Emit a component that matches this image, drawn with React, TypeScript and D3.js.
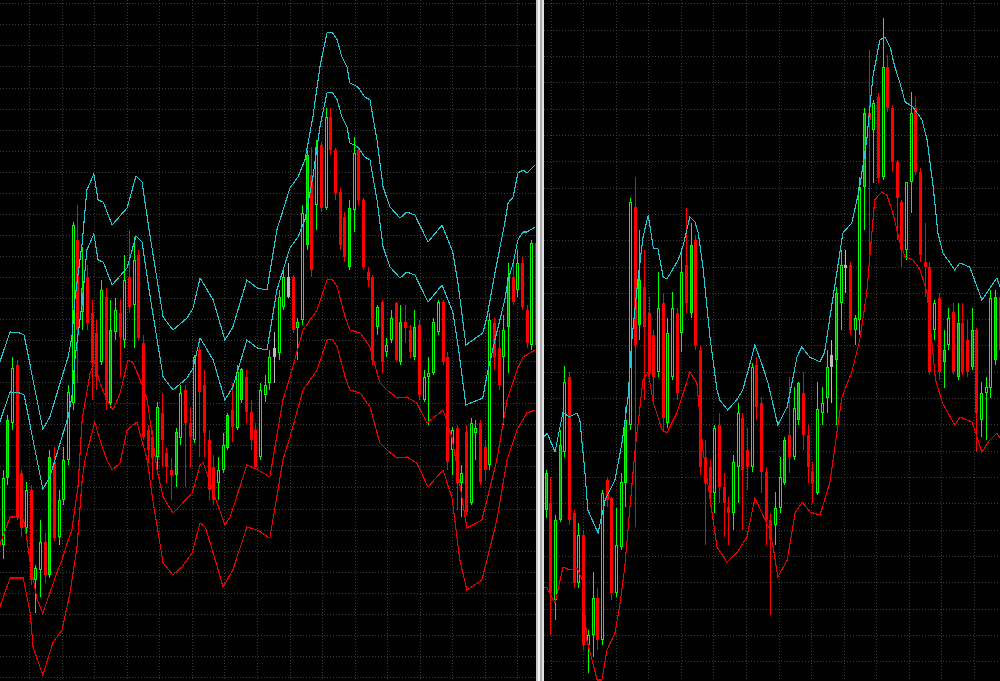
import React from "react";
import * as d3 from "d3";

type Candle = [number, number, number, number, string]; // open, close, high, low, kind (h=up hollow, f=up filled, b=down, g=neutral)
type Pt = [number, number]; // bar index, price

const leftCandles: Candle[] = [
  [455, 522, 530, 441, "h"], [522, 580, 585, 515, "f"], [577, 632, 643, 570, "h"], [635, 483, 640, 480, "b"],
  [527, 472, 530, 463, "b"], [472, 510, 518, 467, "h"], [510, 420, 515, 415, "b"], [420, 432, 435, 387, "h"],
  [430, 458, 480, 403, "h"], [458, 425, 467, 417, "b"], [425, 543, 550, 422, "f"], [538, 462, 553, 459, "b"],
  [463, 500, 510, 455, "h"], [500, 540, 553, 495, "h"], [540, 608, 615, 535, "h"], [597, 775, 778, 590, "h"],
  [760, 670, 795, 617, "b"], [688, 712, 753, 670, "f"], [723, 677, 735, 670, "b"], [687, 637, 700, 600, "b"],
  [667, 623, 680, 610, "b"], [638, 710, 720, 635, "h"], [703, 600, 712, 590, "b"], [597, 670, 700, 592, "f"],
  [668, 690, 702, 660, "h"], [687, 663, 700, 623, "b"], [660, 720, 745, 652, "h"], [723, 693, 770, 687, "b"],
  [695, 740, 763, 652, "h"], [745, 662, 750, 660, "b"], [657, 563, 665, 560, "b"], [570, 550, 575, 537, "b"],
  [563, 542, 570, 520, "b"], [543, 593, 598, 527, "h"], [587, 560, 607, 533, "b"], [547, 533, 553, 517, "b"],
  [530, 525, 542, 500, "b"], [525, 568, 572, 513, "f"], [562, 607, 615, 555, "h"], [610, 577, 615, 513, "b"],
  [577, 563, 593, 533, "b"], [560, 643, 645, 557, "h"], [650, 608, 653, 543, "b"], [615, 567, 630, 543, "b"],
  [560, 510, 570, 500, "b"], [533, 500, 545, 495, "b"], [517, 530, 543, 500, "h"], [530, 555, 567, 527, "h"],
  [552, 585, 587, 550, "f"], [590, 573, 617, 558, "b"], [572, 628, 635, 570, "h"], [600, 631, 632, 597, "f"],
  [623, 588, 630, 577, "b"], [588, 560, 600, 550, "b"], [570, 533, 577, 533, "b"], [543, 610, 617, 540, "h"],
  [605, 615, 625, 598, "h"], [617, 643, 650, 610, "h"], [643, 652, 668, 617, "g"], [647, 703, 710, 640, "h"],
  [693, 723, 730, 690, "h"], [703, 723, 737, 702, "g"], [723, 670, 725, 667, "b"], [672, 678, 682, 640, "h"],
  [680, 787, 795, 675, "h"], [755, 845, 850, 750, "f"], [825, 730, 853, 723, "b"], [795, 853, 860, 770, "h"],
  [855, 792, 858, 788, "b"], [792, 883, 892, 790, "h"], [883, 850, 892, 845, "b"], [850, 807, 852, 800, "b"],
  [808, 755, 812, 750, "b"], [783, 743, 788, 738, "b"], [733, 792, 800, 730, "f"], [790, 847, 863, 768, "h"],
  [850, 800, 853, 795, "b"], [800, 733, 802, 730, "b"], [728, 720, 733, 713, "b"], [723, 640, 725, 635, "b"],
  [673, 693, 695, 665, "h"], [698, 638, 700, 627, "b"], [648, 655, 662, 643, "h"], [660, 682, 690, 657, "h"],
  [697, 640, 698, 638, "b"], [638, 678, 695, 635, "f"], [678, 672, 695, 657, "b"], [670, 648, 675, 642, "b"],
  [643, 673, 690, 640, "f"], [675, 605, 680, 600, "b"], [600, 623, 630, 598, "h"], [623, 627, 643, 575, "h"],
  [627, 678, 682, 625, "h"], [668, 698, 700, 665, "h"], [698, 638, 700, 635, "b"], [643, 538, 648, 530, "b"],
  [550, 570, 573, 525, "h"], [572, 517, 575, 490, "b"], [517, 527, 535, 483, "h"], [568, 488, 575, 485, "b"],
  [497, 577, 582, 495, "h"], [567, 572, 580, 540, "h"], [577, 518, 580, 515, "b"], [553, 530, 560, 520, "b"],
  [535, 680, 687, 530, "h"], [677, 643, 682, 630, "b"], [652, 615, 670, 610, "b"], [643, 670, 685, 575, "h"],
  [673, 723, 737, 627, "f"], [723, 698, 737, 695, "b"], [710, 737, 750, 703, "h"], [737, 693, 743, 690, "b"],
  [690, 657, 695, 652, "b"], [655, 757, 760, 650, "h"], [757, 655, 760, 650, "b"],
];

const rightCandles: Candle[] = [
  [490, 527, 530, 482, "f"], [497, 407, 523, 365, "b"], [400, 480, 485, 380, "h"], [480, 555, 570, 478, "f"],
  [548, 618, 634, 543, "h"], [623, 480, 628, 475, "b"], [487, 417, 490, 412, "b"], [417, 465, 477, 412, "h"],
  [465, 355, 470, 350, "b"], [355, 365, 370, 327, "h"], [365, 402, 428, 343, "h"], [402, 360, 412, 350, "b"],
  [360, 507, 510, 355, "h"], [520, 500, 523, 493, "b"], [502, 407, 503, 400, "b"], [407, 455, 492, 403, "h"],
  [453, 518, 527, 450, "h"], [517, 580, 593, 493, "f"], [575, 798, 802, 570, "h"], [793, 655, 823, 473, "b"],
  [675, 720, 770, 660, "f"], [713, 673, 750, 600, "b"], [687, 627, 703, 620, "b"], [665, 623, 670, 597, "b"],
  [628, 692, 728, 623, "h"], [697, 582, 707, 568, "b"], [577, 667, 682, 572, "h"], [623, 692, 708, 620, "h"],
  [687, 607, 692, 600, "b"], [667, 728, 752, 648, "h"], [735, 697, 792, 687, "b"], [687, 755, 777, 682, "f"],
  [760, 655, 765, 650, "b"], [650, 533, 655, 525, "b"], [543, 517, 560, 455, "b"], [533, 507, 540, 493, "b"],
  [507, 572, 575, 487, "h"], [575, 513, 587, 497, "b"], [513, 497, 527, 463, "b"], [493, 487, 503, 455, "b"],
  [487, 538, 545, 470, "h"], [533, 587, 597, 497, "h"], [582, 530, 587, 470, "b"], [550, 533, 572, 510, "b"],
  [533, 633, 637, 528, "h"], [635, 593, 643, 580, "b"], [597, 528, 603, 507, "b"], [528, 480, 533, 455, "b"],
  [480, 460, 487, 385, "b"], [475, 492, 508, 455, "h"], [492, 523, 543, 487, "h"], [517, 560, 563, 515, "f"],
  [565, 543, 623, 527, "b"], [543, 592, 613, 540, "h"], [580, 617, 618, 575, "f"], [607, 565, 628, 550, "b"],
  [565, 533, 575, 517, "b"], [528, 517, 538, 497, "b"], [507, 591, 618, 505, "h"], [587, 597, 613, 575, "h"],
  [602, 633, 650, 587, "h"], [645, 633, 660, 597, "g"], [640, 707, 713, 575, "f"], [697, 735, 750, 670, "h"],
  [735, 732, 750, 707, "g"], [735, 670, 738, 665, "b"], [670, 682, 685, 655, "h"], [680, 813, 823, 665, "h"],
  [813, 887, 892, 770, "f"], [887, 880, 950, 733, "b"], [870, 897, 900, 817, "h"], [903, 822, 907, 817, "b"],
  [823, 933, 982, 820, "h"], [933, 892, 945, 888, "b"], [892, 838, 895, 828, "b"], [838, 802, 840, 760, "b"],
  [798, 750, 800, 733, "b"], [750, 818, 818, 740, "h"], [818, 887, 908, 787, "h"], [892, 828, 903, 825, "b"],
  [828, 745, 832, 738, "b"], [738, 733, 777, 703, "b"], [733, 628, 738, 625, "b"], [670, 697, 700, 660, "h"],
  [702, 628, 707, 620, "b"], [638, 650, 670, 612, "f"], [655, 682, 692, 650, "h"], [688, 628, 697, 625, "b"],
  [623, 677, 697, 620, "f"], [677, 628, 697, 625, "b"], [660, 628, 680, 623, "b"], [633, 670, 692, 630, "f"],
  [670, 587, 672, 548, "b"], [580, 607, 618, 563, "h"], [607, 613, 623, 560, "h"], [612, 702, 710, 602, "h"],
  [640, 703, 710, 635, "f"], [703, 650, 710, 640, "b"],
];

const leftUpperOuter: Pt[] = [
  [-0.6, 638], [1.6, 668], [3.7, 667], [4.6, 665], [6.5, 620], [8.6, 571], [10.1, 583], [12.3, 617], [14.0, 643],
  [14.8, 663], [15.5, 703], [17.0, 757], [18.0, 810], [19.5, 826], [20.4, 800], [21.5, 798], [23.4, 775], [26.6, 792],
  [28.5, 824], [29.8, 818], [31.3, 770], [34.3, 683], [36.4, 670], [39.4, 682], [40.7, 692], [42.2, 722], [45.0, 700],
  [47.5, 660], [49.2, 673], [52.2, 720], [54.4, 712], [56.5, 710], [58.6, 770], [61.4, 812], [63.1, 823], [64.6, 840],
  [66.3, 883], [67.8, 933], [69.3, 967], [70.4, 968], [71.5, 960], [72.5, 943], [73.6, 933], [74.2, 917], [75.9, 913],
  [77.4, 903], [78.5, 900], [80.0, 860], [81.3, 813], [82.8, 793], [84.9, 782], [86.4, 788], [88.1, 785], [90.9, 758],
  [93.9, 775], [96.2, 748], [97.3, 717], [99.0, 655], [100.5, 660], [102.6, 667], [103.5, 683], [105.2, 727],
  [107.3, 777], [108.0, 797], [109.1, 803], [110.1, 827], [111.2, 830], [112.0, 827], [113.8, 835],
];

const leftUpperInner: Pt[] = [
  [-0.6, 578], [1.6, 608], [3.7, 607], [4.6, 605], [6.5, 560], [8.6, 511], [10.1, 523], [12.3, 557], [14.0, 583],
  [14.8, 603], [15.5, 643], [17.0, 697], [18.0, 750], [19.5, 766], [20.4, 740], [21.5, 738], [23.4, 715], [26.6, 732],
  [28.5, 764], [29.8, 758], [31.3, 710], [34.3, 623], [36.4, 610], [39.4, 622], [40.7, 632], [42.2, 662], [45.0, 640],
  [47.5, 600], [49.2, 613], [52.2, 660], [54.4, 652], [56.5, 650], [58.6, 710], [61.4, 752], [63.1, 763], [64.6, 780],
  [66.3, 823], [67.8, 873], [69.3, 907], [70.4, 908], [71.5, 900], [72.5, 883], [73.6, 873], [74.2, 857], [75.9, 853],
  [77.4, 843], [78.5, 840], [80.0, 800], [81.3, 753], [82.8, 733], [84.9, 722], [86.4, 728], [88.1, 725], [90.9, 698],
  [93.9, 715], [96.2, 688], [97.3, 655], [99.0, 595], [100.5, 598], [102.6, 602], [103.5, 625], [105.2, 660],
  [107.3, 700], [108.0, 720], [109.1, 737], [110.1, 760], [111.2, 768], [112.0, 768], [113.8, 773],
];

const leftLowerInner: Pt[] = [
  [-0.6, 455], [1.6, 483], [2.6, 483], [4.4, 481], [4.8, 473], [5.9, 437], [7.4, 400], [8.6, 387], [10.1, 407],
  [11.8, 430], [12.7, 440], [13.8, 457], [14.8, 470], [16.1, 513], [17.0, 580], [17.6, 597], [18.7, 627], [19.7, 638],
  [20.8, 617], [22.3, 600], [23.6, 590], [25.1, 607], [26.8, 640], [27.9, 637], [29.4, 620], [30.9, 600], [32.1, 560],
  [33.0, 530], [34.3, 503], [36.4, 487], [38.5, 497], [40.5, 507], [42.2, 535], [42.8, 538], [45.0, 508], [47.5, 475],
  [48.6, 483], [50.7, 513], [52.2, 535], [54.6, 530], [57.1, 523], [59.9, 600], [61.4, 623], [64.2, 670], [67.2, 690],
  [69.3, 720], [70.4, 721], [71.5, 713], [73.2, 683], [74.2, 670], [76.4, 667], [78.5, 653], [80.6, 617], [82.1, 610],
  [84.3, 602], [86.4, 603], [88.5, 597], [90.7, 577], [94.1, 590], [96.0, 563], [97.1, 533], [99.2, 472], [102.4, 480],
  [103.5, 500], [105.6, 540], [107.8, 600], [109.9, 630], [111.2, 643], [113.8, 650],
];

const leftLowerOuter: Pt[] = [
  [-0.6, 393], [1.6, 422], [4.4, 422], [5.9, 387], [6.5, 353], [8.6, 325], [10.8, 358], [12.7, 370], [14.4, 407],
  [15.9, 453], [17.0, 520], [17.6, 540], [19.7, 578], [20.8, 560], [22.3, 540], [23.4, 530], [25.1, 537], [26.6, 570],
  [28.7, 578], [30.9, 540], [32.1, 500], [34.3, 437], [36.4, 425], [38.3, 433], [40.5, 447], [42.2, 477], [43.3, 473],
  [45.0, 447], [47.1, 413], [49.2, 430], [52.2, 473], [54.4, 470], [57.1, 462], [59.9, 540], [61.4, 563], [64.2, 610],
  [67.2, 630], [69.3, 660], [70.4, 661], [71.5, 653], [73.2, 623], [74.2, 610], [76.4, 607], [78.5, 593], [80.6, 557],
  [82.1, 550], [84.3, 542], [86.4, 543], [88.5, 537], [90.9, 513], [94.1, 530], [96.0, 503], [97.7, 440], [99.2, 410],
  [102.4, 420], [103.5, 440], [105.6, 480], [107.8, 540], [109.9, 570], [112.0, 587], [113.8, 590],
];

const rightUpper: Pt[] = [
  [-0.4, 563], [0.3, 567], [2.0, 548], [3.7, 588], [5.0, 583], [6.7, 587], [7.3, 580], [8.4, 527], [9.0, 490],
  [11.2, 467], [12.7, 500], [14.8, 520], [16.3, 557], [17.6, 603], [18.4, 660], [19.7, 720], [20.8, 763], [21.9, 785],
  [23.0, 752], [24.0, 751], [25.1, 723], [25.9, 721], [28.3, 740], [29.3, 753], [30.8, 783], [31.9, 778], [32.6, 767],
  [33.6, 733], [35.1, 663], [36.6, 610], [37.2, 600], [38.9, 590], [40.8, 600], [42.1, 610], [43.7, 637], [44.7, 655],
  [46.4, 633], [47.5, 617], [49.6, 575], [51.6, 593], [53.7, 643], [54.7, 653], [56.4, 643], [58.6, 638], [59.6, 648],
  [61.4, 703], [63.5, 767], [65.4, 777], [67.1, 813], [68.6, 860], [69.9, 923], [71.4, 960], [72.5, 963], [73.6, 953],
  [74.6, 933], [75.7, 917], [76.8, 898], [78.5, 893], [80.4, 880], [81.5, 860], [82.8, 813], [83.8, 767], [84.9, 747],
  [87.4, 730], [88.5, 737], [90.6, 733], [93.2, 700], [96.4, 722], [97.3, 710],
];

const rightLower: Pt[] = [
  [-0.4, 413], [0.3, 412], [2.0, 397], [3.7, 433], [5.2, 430], [6.7, 432], [7.8, 420], [8.8, 360], [11.0, 320],
  [12.0, 320], [13.1, 350], [14.8, 367], [15.9, 397], [16.9, 433], [18.0, 493], [19.1, 550], [20.8, 620], [21.9, 628],
  [23.0, 597], [24.9, 570], [25.9, 567], [28.0, 587], [29.8, 613], [30.8, 628], [32.3, 617], [33.6, 550], [36.6, 453],
  [38.7, 438], [40.8, 447], [43.0, 463], [44.7, 502], [46.4, 485], [47.9, 470], [48.6, 453], [49.6, 423], [51.6, 440],
  [53.3, 487], [54.8, 498], [56.5, 488], [58.6, 485], [60.7, 517], [63.3, 603], [65.4, 628], [67.1, 660], [68.6, 707],
  [70.3, 800], [71.8, 808], [72.9, 805], [74.2, 787], [75.7, 757], [76.8, 743], [78.5, 740], [80.0, 730], [81.5, 707],
  [83.3, 620], [84.8, 597], [87.4, 575], [88.5, 583], [91.1, 578], [93.2, 548], [94.9, 560], [96.4, 567], [97.3, 560],
];

const W = 1000;
const H = 681;
const LIME = "#00ff00";
const FILLGREEN = "#00a400";
const RED = "#ff0000";
const GRAY = "#bcbcbc";
const CYAN = "#22cad8";
const BANDRED = "#ee0000";
const GRID = "#3c3c3c";

const priceY = d3.scaleLinear().domain([319, 1000]).range([H, 0]);
const leftX = d3.scaleLinear().domain([0, 114]).range([2.6, 2.6 + 114 * 4.68]);
const rightX = d3.scaleLinear().domain([0, 97]).range([545.7, 545.7 + 97 * 4.68]);

function Candles({ data, x, y }: { data: Candle[]; x: d3.ScaleLinear<number, number>; y: d3.ScaleLinear<number, number> }) {
  return (
    <g shapeRendering="crispEdges">
      {data.map((d, i) => {
        const [o, c, hi, lo, k] = d;
        const px = Math.round(x(i));
        const top = Math.round(y(Math.max(o, c)));
        const bot = Math.round(y(Math.min(o, c)));
        const yh = Math.round(y(hi));
        const yl = Math.round(y(lo));
        const wx = px + 0.5;
        if (k === "h" || k === "f") {
          const fill = k === "f" ? FILLGREEN : "#000";
          return (
            <g key={i}>
              <line x1={wx} x2={wx} y1={yh} y2={top} stroke={LIME} />
              <line x1={wx} x2={wx} y1={bot} y2={yl} stroke={LIME} />
              <rect x={px - 0.5} y={top + 0.5} width={2} height={Math.max(bot - top - 1, 1)} fill={fill} stroke={LIME} />
            </g>
          );
        }
        const col = k === "g" ? GRAY : RED;
        return (
          <g key={i}>
            <line x1={wx} x2={wx} y1={yh} y2={yl} stroke={col} />
            <rect x={px - 1} y={top} width={3} height={Math.max(bot - top, 1)} fill={col} />
          </g>
        );
      })}
    </g>
  );
}

function Band({ pts, x, y, color }: { pts: Pt[]; x: d3.ScaleLinear<number, number>; y: d3.ScaleLinear<number, number>; color: string }) {
  const line = d3.line<Pt>().x((d) => x(d[0])).y((d) => y(d[1]));
  return <path d={line(pts) || ""} fill="none" stroke={color} strokeWidth={1.1} shapeRendering="crispEdges" />;
}

function Grid({ x0, x1, xs, ys }: { x0: number; x1: number; xs: number[]; ys: number[] }) {
  return (
    <g stroke={GRID} strokeWidth={1} strokeDasharray="1 2" shapeRendering="crispEdges">
      {xs.map((v, i) => (
        <line key={"v" + i} x1={Math.round(v) + 0.5} x2={Math.round(v) + 0.5} y1={0} y2={H} />
      ))}
      {ys.map((v, i) => (
        <line key={"h" + i} x1={x0} x2={x1} y1={Math.round(v) + 0.5} y2={Math.round(v) + 0.5} />
      ))}
    </g>
  );
}

export default function App() {
  const leftGridX = d3.range(16).map((k) => 29.3 + 32.53 * k);
  const leftGridY = d3.range(33).map((k) => 3.3 + 21.05 * k);
  const rightGridX = d3.range(14).map((k) => 550.7 + 32.55 * k);
  const rightGridY = d3.range(26).map((k) => 3.3 + 26.32 * k);
  return (
    <div style={{ position: "absolute", left: 0, top: 0, width: W, height: H, background: "#000" }}>
      <svg width={W} height={H} style={{ display: "block" }}>
        <defs>
          <clipPath id="clipL">
            <rect x={0} y={0} width={536} height={H} />
          </clipPath>
          <clipPath id="clipR">
            <rect x={544} y={0} width={456} height={H} />
          </clipPath>
        </defs>
        <rect x={0} y={0} width={W} height={H} fill="#000" />
        <g clipPath="url(#clipL)">
          <Grid x0={0} x1={536} xs={leftGridX} ys={leftGridY} />
          <Candles data={leftCandles} x={leftX} y={priceY} />
          <Band pts={leftUpperOuter} x={leftX} y={priceY} color={CYAN} />
          <Band pts={leftUpperInner} x={leftX} y={priceY} color={CYAN} />
          <Band pts={leftLowerInner} x={leftX} y={priceY} color={BANDRED} />
          <Band pts={leftLowerOuter} x={leftX} y={priceY} color={BANDRED} />
        </g>
        <g clipPath="url(#clipR)">
          <Grid x0={544} x1={W} xs={rightGridX} ys={rightGridY} />
          <Candles data={rightCandles} x={rightX} y={priceY} />
          <Band pts={rightUpper} x={rightX} y={priceY} color={CYAN} />
          <Band pts={rightLower} x={rightX} y={priceY} color={BANDRED} />
        </g>
        <g shapeRendering="crispEdges">
          <rect x={536} y={0} width={2} height={H} fill="#c8c8c8" />
          <rect x={538} y={0} width={2} height={H} fill="#f4f4f4" />
          <rect x={540} y={0} width={2} height={H} fill="#a8a8a8" />
          <rect x={542} y={0} width={2} height={H} fill="#e0e0e0" />
        </g>
      </svg>
    </div>
  );
}
